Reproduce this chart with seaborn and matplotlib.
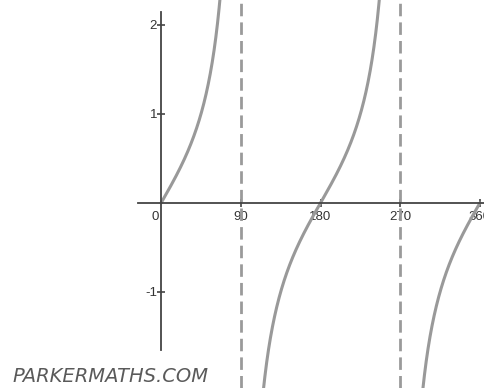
import numpy as np
import pandas as pd
import matplotlib
matplotlib.use("Agg")
import matplotlib.pyplot as plt
import seaborn as sns

# Angles (degrees) where tan x is undefined
asymptotes = [90, 270]
# Axis tick positions and labels
x_ticks = [90, 180, 270, 360]
x_tick_labels = ["90", "180", "270", "360"]
y_ticks = [-1, 1, 2]
y_tick_labels = ["-1", "1", "2"]
# Continuous branches of y = tan x between the asymptotes
branches = [(0, 89.5), (90.5, 269.5), (270.5, 360)]
watermark = "PARKERMATHS.COM"

frames = []
for i, (a, b) in enumerate(branches):
    xs = np.linspace(a, b, 600)
    frames.append(pd.DataFrame({"x": xs, "y": np.tan(np.radians(xs)), "branch": i}))
curve = pd.concat(frames, ignore_index=True)

sns.set_style("white")
plt.rcParams["font.family"] = ["Liberation Sans", "DejaVu Sans"]

fig = plt.figure(figsize=(4.84, 3.88), dpi=100)
ax = fig.add_axes([0, 0, 1, 1])

for xa in asymptotes:
    ax.axvline(xa, color="#9a9a9a", lw=2, ls=(0, (4.5, 2.2)), zorder=1)

sns.lineplot(data=curve, x="x", y="y", units="branch", estimator=None,
             color="#999999", lw=2.2, ax=ax, legend=False, zorder=2)

ax.set_xlim(-182, 364.6)
ax.set_ylim(-2.08, 2.28)
ax.set_xlabel("")
ax.set_ylabel("")

for s in ["top", "right"]:
    ax.spines[s].set_visible(False)
ax.spines["left"].set_position(("data", 0))
ax.spines["bottom"].set_position(("data", 0))
ax.spines["left"].set_bounds(-1.65, 2.15)
ax.spines["bottom"].set_bounds(-26, 370)
for s in ["left", "bottom"]:
    ax.spines[s].set_color("#444444")
    ax.spines[s].set_linewidth(1.3)
    ax.spines[s].set_zorder(3)

ax.set_xticks(x_ticks)
ax.set_xticklabels(x_tick_labels)
ax.set_yticks(y_ticks)
ax.set_yticklabels(y_tick_labels)
ax.tick_params(axis="both", direction="inout", length=6, width=1.2,
               color="#444444", labelsize=9.5, labelcolor="#333333",
               bottom=True, left=True)
ax.tick_params(axis="x", pad=2.5)
ax.tick_params(axis="y", pad=0)
ax.text(-3, -0.09, "0", ha="right", va="top", fontsize=9.5, color="#333333")

fig.text(0.026, 0.005, watermark, ha="left", va="bottom", fontsize=14,
         color="#5a5a5a", family=["DejaVu Sans"], style="oblique",
         fontweight="light")

fig.savefig("out.png", dpi=100)
